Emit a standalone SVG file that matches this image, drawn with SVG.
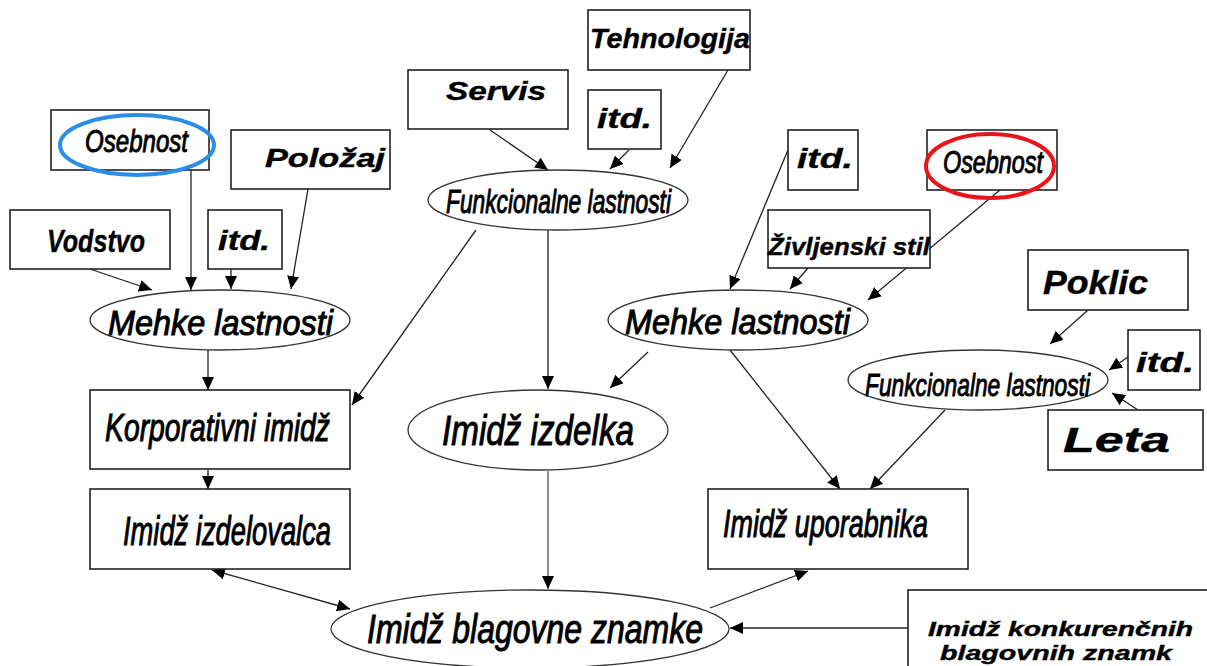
<svg xmlns="http://www.w3.org/2000/svg" width="1207" height="666" viewBox="0 0 1207 666">
<style>
.box{fill:#fff;stroke:#222;stroke-width:1.6}
.ell{fill:#fff;stroke:#333;stroke-width:1.3}
.w{font-family:"Liberation Sans",Arial,sans-serif;font-style:italic;font-weight:bold;fill:#000;stroke:#000;stroke-width:0.4}
.c{font-family:"Liberation Sans",Arial,sans-serif;font-style:italic;font-weight:normal;fill:#000;stroke:#000;stroke-width:1}
.ln{stroke:#222;stroke-width:1.3;fill:none;marker-end:url(#ah)}
</style>
<defs>
<marker id="ah" markerUnits="userSpaceOnUse" markerWidth="14" markerHeight="12" refX="13" refY="6" orient="auto">
<path d="M0,0 L13,6 L0,12 z" fill="#000"/>
</marker>
<marker id="as" markerUnits="userSpaceOnUse" markerWidth="14" markerHeight="12" refX="1" refY="6" orient="auto">
<path d="M14,0 L1,6 L14,12 z" fill="#000"/>
</marker>
</defs>
<rect width="1207" height="666" fill="#fff"/>

<g id="connectors">
<line class="ln" x1="90" y1="269" x2="152" y2="290"/>
<line class="ln" x1="191" y1="170" x2="191" y2="290"/>
<line class="ln" x1="231" y1="269" x2="231" y2="289"/>
<line class="ln" x1="308" y1="189" x2="291" y2="289"/>
<line class="ln" x1="490" y1="130" x2="548" y2="170"/>
<line class="ln" x1="629" y1="150" x2="610" y2="169"/>
<line class="ln" x1="728" y1="70" x2="670" y2="168"/>
<line class="ln" x1="208" y1="350" x2="208" y2="390"/>
<line class="ln" x1="476" y1="230" x2="352" y2="405"/>
<line class="ln" x1="548" y1="230" x2="548" y2="389"/>
<line class="ln" x1="648" y1="352" x2="610" y2="388"/>
<line class="ln" x1="208" y1="469" x2="208" y2="489"/>
<line class="ln" x1="730" y1="350" x2="840" y2="489"/>
<line class="ln" x1="945" y1="410" x2="870" y2="489"/>
<line class="ln" x1="548" y1="471" x2="548" y2="589" style="stroke:#555"/>
<line class="ln" x1="212" y1="570" x2="350" y2="609" style="marker-start:url(#as)"/>
<line class="ln" x1="710" y1="608" x2="808" y2="571"/>
<line class="ln" x1="908" y1="628" x2="730" y2="628"/>
<line class="ln" x1="788" y1="150" x2="730" y2="289"/>
<line class="ln" x1="808" y1="268" x2="790" y2="289"/>
<line class="ln" x1="1000" y1="190" x2="868" y2="300"/>
<line class="ln" x1="1088" y1="310" x2="1050" y2="344"/>
<line class="ln" x1="1128" y1="357" x2="1109" y2="370"/>
<line class="ln" x1="1138" y1="410" x2="1112" y2="393"/>
</g>

<g id="osebnost-l"><rect class="box" x="51" y="110" width="158" height="60"/><ellipse cx="137" cy="145" rx="77" ry="30" fill="none" stroke="#2a8de8" stroke-width="4"/><text class="c" x="85" y="152" font-size="32" textLength="103" lengthAdjust="spacingAndGlyphs">Osebnost</text></g>
<g id="polozaj"><rect class="box" x="231" y="130" width="159" height="59"/><text class="w" x="265" y="167" font-size="26" textLength="120" lengthAdjust="spacingAndGlyphs">Položaj</text></g>
<g id="vodstvo"><rect class="box" x="10" y="210" width="160" height="59"/><text class="w" x="47" y="252" font-size="31" textLength="98" lengthAdjust="spacingAndGlyphs">Vodstvo</text></g>
<g id="itd-l"><rect class="box" x="208" y="210" width="74" height="59"/><text class="w" x="218" y="250" font-size="28" textLength="52" lengthAdjust="spacingAndGlyphs">itd.</text></g>
<g id="mehke-l"><ellipse class="ell" cx="220" cy="320" rx="130" ry="30"/><text class="c" x="108" y="335" font-size="35" textLength="225" lengthAdjust="spacingAndGlyphs">Mehke lastnosti</text></g>

<g id="servis"><rect class="box" x="408" y="70" width="160" height="59"/><text class="w" x="446" y="100" font-size="26" textLength="100" lengthAdjust="spacingAndGlyphs">Servis</text></g>
<g id="tehnologija"><rect class="box" x="588" y="10" width="162" height="60"/><text class="w" x="590" y="48" font-size="28" textLength="160" lengthAdjust="spacingAndGlyphs">Tehnologija</text></g>
<g id="itd-m"><rect class="box" x="588" y="90" width="73" height="59"/><text class="w" x="597" y="128" font-size="28" textLength="55" lengthAdjust="spacingAndGlyphs">itd.</text></g>
<g id="funkc-t"><ellipse class="ell" cx="558" cy="200" rx="130" ry="30"/><text class="c" x="446" y="213" font-size="33" textLength="225" lengthAdjust="spacingAndGlyphs">Funkcionalne lastnosti</text></g>

<g id="itd-r"><rect class="box" x="788" y="130" width="70" height="60"/><text class="w" x="797" y="168" font-size="28" textLength="56" lengthAdjust="spacingAndGlyphs">itd.</text></g>
<g id="osebnost-r"><rect class="box" x="927" y="130" width="130" height="60"/><ellipse cx="990" cy="166" rx="64" ry="32" fill="none" stroke="#e8141a" stroke-width="4"/><text class="c" x="943" y="173" font-size="32" textLength="100" lengthAdjust="spacingAndGlyphs">Osebnost</text></g>
<g id="zivljenski"><rect class="box" x="768" y="210" width="162" height="58"/><text class="w" x="768" y="255" font-size="24" textLength="162" lengthAdjust="spacingAndGlyphs">Življenski stil</text></g>
<g id="mehke-r"><ellipse class="ell" cx="738" cy="320" rx="130" ry="30"/><text class="c" x="625" y="334" font-size="35" textLength="225" lengthAdjust="spacingAndGlyphs">Mehke lastnosti</text></g>
<g id="poklic"><rect class="box" x="1028" y="250" width="160" height="60"/><text class="w" x="1043" y="294" font-size="33" textLength="105" lengthAdjust="spacingAndGlyphs">Poklic</text></g>
<g id="itd-fr"><rect class="box" x="1128" y="330" width="72" height="60"/><text class="w" x="1136" y="372" font-size="28" textLength="58" lengthAdjust="spacingAndGlyphs">itd.</text></g>
<g id="funkc-r"><ellipse class="ell" cx="978" cy="380" rx="130" ry="30"/><text class="c" x="865" y="396" font-size="32" textLength="225" lengthAdjust="spacingAndGlyphs">Funkcionalne lastnosti</text></g>
<g id="leta"><rect class="box" x="1048" y="410" width="155" height="60"/><text class="w" x="1063" y="452" font-size="35" textLength="107" lengthAdjust="spacingAndGlyphs">Leta</text></g>

<g id="korporativni"><rect class="box" x="90" y="390" width="260" height="79"/><text class="c" x="105" y="441" font-size="38" textLength="225" lengthAdjust="spacingAndGlyphs">Korporativni imidž</text></g>
<g id="izdelka"><ellipse class="ell" cx="538" cy="430" rx="130" ry="40"/><text class="c" x="442" y="445" font-size="43" textLength="192" lengthAdjust="spacingAndGlyphs">Imidž izdelka</text></g>
<g id="izdelovalca"><rect class="box" x="90" y="489" width="260" height="80"/><text class="c" x="123" y="545" font-size="41" textLength="208" lengthAdjust="spacingAndGlyphs">Imidž izdelovalca</text></g>
<g id="uporabnika"><rect class="box" x="708" y="489" width="260" height="80"/><text class="c" x="723" y="537" font-size="38" textLength="205" lengthAdjust="spacingAndGlyphs">Imidž uporabnika</text></g>
<g id="blagovne"><ellipse class="ell" cx="530" cy="629" rx="199" ry="39"/><text class="c" x="367" y="643" font-size="40" textLength="336" lengthAdjust="spacingAndGlyphs">Imidž blagovne znamke</text></g>
<g id="konkurencnih"><rect class="box" x="908" y="590" width="310" height="90"/><text class="w" x="928" y="636" font-size="20" textLength="265" lengthAdjust="spacingAndGlyphs">Imidž konkurenčnih</text><text class="w" x="940" y="660" font-size="20" textLength="232" lengthAdjust="spacingAndGlyphs">blagovnih znamk</text></g>
</svg>
